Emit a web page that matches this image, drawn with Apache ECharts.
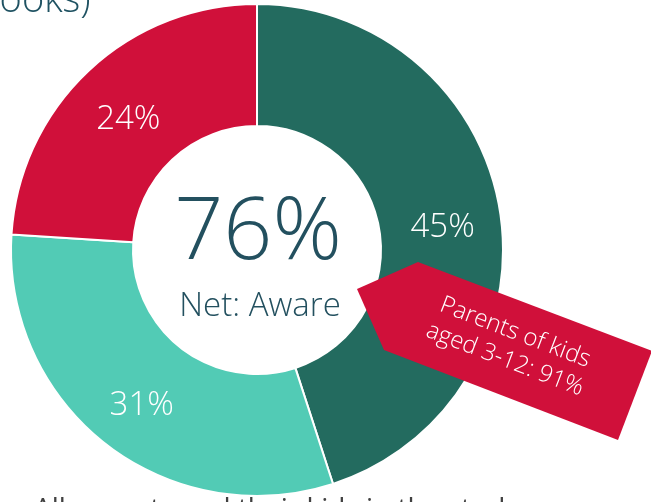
<!DOCTYPE html>
<html>
<head>
<meta charset="utf-8">
<script src="https://cdn.jsdelivr.net/npm/echarts@6/dist/echarts.min.js"></script>
<style>
  html, body { margin: 0; padding: 0; background: #fff; }
  #chart { width: 651px; height: 502px; }
</style>
</head>
<body>
<div id="chart"></div>
<script>
const categories = ["Aware (45%)", "Aware (31%)", "Not aware"];
const values = [45, 31, 24];
const colors = ["#236B5F", "#52CBB5", "#D0103A"];
const netLabel = "76%";
const netText = "Net: Aware";
const calloutText = "Parents of kids\naged 3-12: 91%";

const FONT = "Open Sans, Noto Sans, sans-serif";

const chart = echarts.init(document.getElementById("chart"));

chart.setOption({
  animation: false,
  graphic: {
    elements: [
      {
        type: "text",
        left: -23,
        top: -18,
        style: { text: "books)", font: "300 38px " + FONT, fill: "#1F5262" }
      },
      {
        type: "text",
        x: 34,
        y: 496,
        style: {
          text: "All parents and their kids in the study", font: "28px " + FONT,
          fill: "#404040", verticalAlign: "top"
        }
      },
      {
        type: "text",
        x: 258,
        y: 234,
        style: {
          text: netLabel, font: "300 86px " + FONT, fill: "#23505F",
          align: "center", verticalAlign: "middle"
        }
      },
      {
        type: "text",
        x: 260,
        y: 307,
        style: {
          text: netText, font: "300 33px " + FONT, fill: "#23505F",
          align: "center", verticalAlign: "middle"
        }
      },
      {
        type: "polygon",
        z: 10,
        shape: {
          points: [[357, 289], [418, 262], [652, 351], [618, 440], [384, 350]]
        },
        style: { fill: "#D0103A" }
      },
      {
        type: "text",
        z: 11,
        x: 510,
        y: 346,
        rotation: -21 * Math.PI / 180,
        style: {
          text: calloutText, font: "300 24px " + FONT, fill: "#fff",
          align: "center", verticalAlign: "middle", lineHeight: 29
        }
      }
    ]
  },
  series: [
    {
      type: "pie",
      center: [257, 250],
      radius: [124, 246],
      startAngle: 90,
      clockwise: true,
      itemStyle: { borderColor: "#fff", borderWidth: 2 },
      label: {
        show: true,
        position: "inside",
        formatter: "{c}%",
        color: "#fff",
        fontFamily: FONT,
        fontWeight: 300,
        fontSize: 33
      },
      labelLayout: function () {
        return { dy: 7 };
      },
      labelLine: { show: false },
      data: categories.map((name, i) => ({
        name: name,
        value: values[i],
        itemStyle: { color: colors[i] }
      }))
    }
  ]
});
</script>
</body>
</html>
